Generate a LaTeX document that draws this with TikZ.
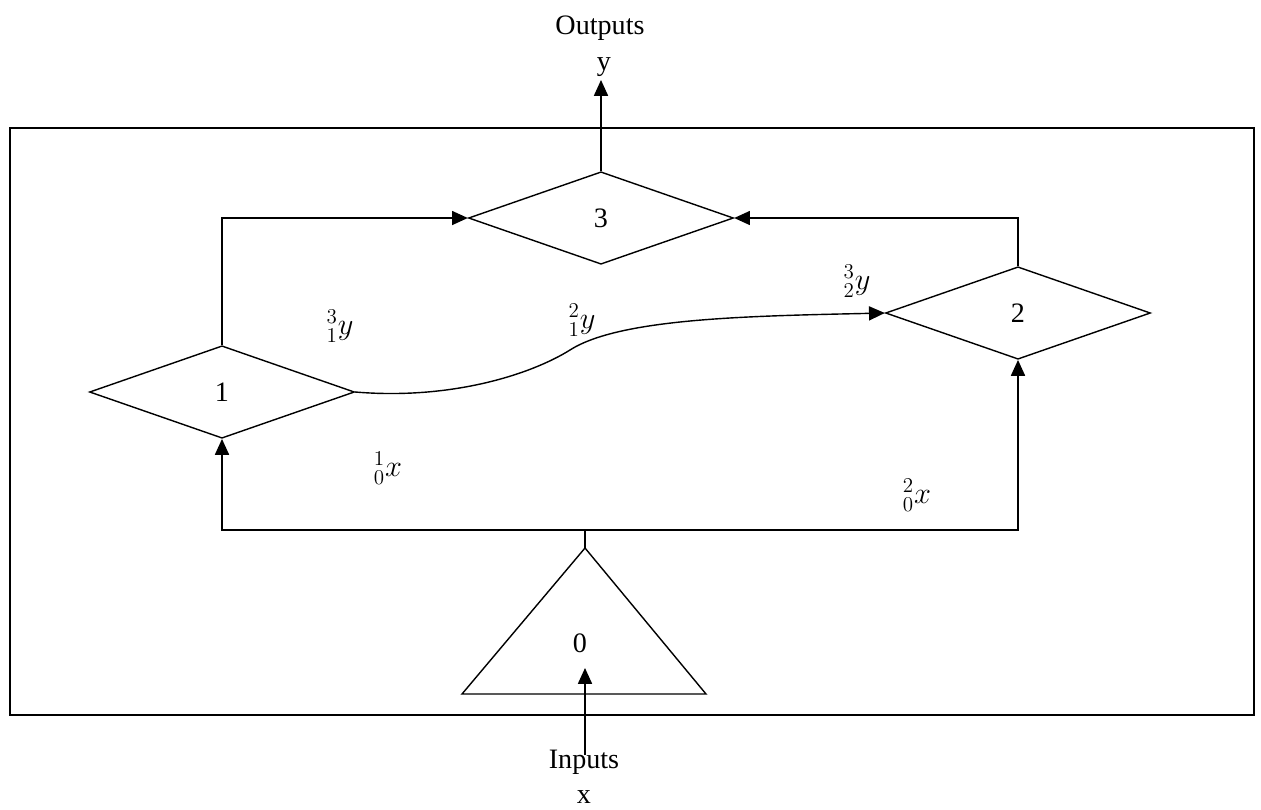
\documentclass[tikz,border=0pt]{standalone}
\usepackage{fontspec}
\setmainfont{Liberation Serif}
\usetikzlibrary{shapes.geometric,arrows.meta,positioning}

\begin{document}
\begin{tikzpicture}[
    x=0.02cm, y=-0.02cm,
    block/.style={draw, thick, diamond, minimum width=5.3cm, minimum height=1.85cm, inner sep=0pt, font=\fontsize{16}{18}\selectfont},
    lbl/.style={font=\fontsize{18}{20}\selectfont, inner sep=0pt},
    flow/.style={font=\fontsize{16}{18}\selectfont, inner sep=0pt},
    arrow/.style={-{Triangle[length=9pt,width=8pt]}, thick}
  ]
    \useasboundingbox (0,0) rectangle (1261,809);

    % frame
    \draw[thick] (10,128) rectangle (1254,715);

    % blocks
    \node[block] (d1) at (222,392) {1};
    \node[block] (d3) at (601,218) {3};
    \node[block] (d2) at (1018,313) {2};

    % source triangle
    \draw[thick] (462,694) -- (585,548) coordinate (apex) -- (706,694) -- cycle;
    \node[flow] (n0) at (580,643) {0};

    % inputs / outputs
    \node[flow] (inp) at (584,762) {Inputs};
    \node[flow] (xin) at (584,797) {x};
    \node[flow] (outp) at (600,28) {Outputs};
    \node[flow] (yout) at (604,67) {y};
    \coordinate (xfoot) at (585,755);
    \coordinate (xtip) at (585,668);
    \coordinate (ytip) at (601,80);
    \coordinate (bus) at (585,530);

    % connections
    \draw[arrow] (xfoot) -- (xtip);
    \draw[thick] (apex) -- (bus);
    \draw[arrow] (bus) -| (d1.south);
    \draw[arrow] (bus) -| (d2.south);
    \draw[arrow] (d1.north) |- (d3.west);
    \draw[arrow] (d2.north) |- (d3.east);
    \draw[arrow] (d3.north) -- (ytip);
    \draw[arrow] (d1.east) .. controls (450,400) and (530,375) .. (570,350)
      .. controls (620,318) and (750,316) .. (d2.west);

    % flow labels
    \node[lbl] (y13) at (340,326) {${}^{3}_{1}y$};
    \node[lbl] (y12) at (582,320) {${}^{2}_{1}y$};
    \node[lbl] (y23) at (857,281) {${}^{3}_{2}y$};
    \node[lbl] (x01) at (388,468) {${}^{1}_{0}x$};
    \node[lbl] (x02) at (917,495) {${}^{2}_{0}x$};
  \end{tikzpicture}
\end{document}
